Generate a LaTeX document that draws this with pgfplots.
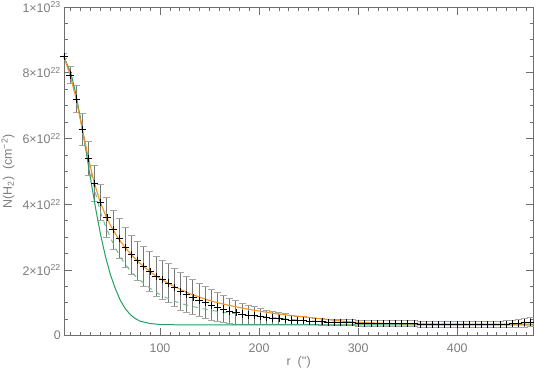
\documentclass[border=0pt]{standalone}
\usepackage{fontspec}
\setmainfont{Liberation Sans}
\usepackage{pgfplots}
\usepackage{pgfplotstable}
\pgfplotsset{compat=1.18}

\definecolor{fitorange}{RGB}{240,148,30}
\definecolor{beamgreen}{RGB}{34,160,100}
\definecolor{dashgreen}{RGB}{110,195,135}
\definecolor{axisgray}{RGB}{110,110,110}
\definecolor{labelgray}{RGB}{125,125,125}
\definecolor{errgray}{RGB}{120,120,120}
\definecolor{capgray}{RGB}{165,165,165}

% radial profile, N in units of 1e22 cm^-2
\pgfplotstableread{
r n e
3.0 8.50 0.08
9.2 7.93 0.25
15.4 7.20 0.40
21.6 6.28 0.48
27.8 5.40 0.52
34.0 4.62 0.55
40.2 4.05 0.56
46.4 3.60 0.60
52.6 3.22 0.60
58.8 2.95 0.60
65.0 2.68 0.60
71.2 2.46 0.60
77.4 2.28 0.60
83.6 2.10 0.60
89.8 1.95 0.60
96.0 1.80 0.60
102.2 1.70 0.60
108.4 1.60 0.59
114.6 1.46 0.58
120.8 1.34 0.57
127.0 1.25 0.55
133.2 1.17 0.53
139.4 1.08 0.51
145.6 1.00 0.49
151.8 0.93 0.47
158.0 0.87 0.45
164.2 0.81 0.42
170.4 0.75 0.39
176.6 0.70 0.36
182.8 0.66 0.33
189.0 0.63 0.30
195.2 0.61 0.27
201.4 0.58 0.24
207.6 0.56 0.22
213.8 0.54 0.20
220.0 0.52 0.18
226.2 0.50 0.16
232.4 0.48 0.14
238.6 0.46 0.13
244.8 0.45 0.12
251.0 0.44 0.11
257.2 0.43 0.10
263.4 0.42 0.10
269.6 0.41 0.09
275.8 0.40 0.09
282.0 0.40 0.09
288.2 0.39 0.09
294.4 0.39 0.09
300.6 0.38 0.09
306.8 0.38 0.09
313.0 0.38 0.09
319.2 0.38 0.09
325.4 0.37 0.09
331.6 0.37 0.09
337.8 0.37 0.09
344.0 0.37 0.09
350.2 0.36 0.09
356.4 0.36 0.09
362.6 0.35 0.09
368.8 0.35 0.09
375.0 0.35 0.09
381.2 0.35 0.09
387.4 0.34 0.09
393.6 0.34 0.09
399.8 0.34 0.09
406.0 0.34 0.09
412.2 0.34 0.09
418.4 0.34 0.09
424.6 0.34 0.09
430.8 0.34 0.09
437.0 0.34 0.09
443.2 0.35 0.09
449.4 0.35 0.10
455.6 0.36 0.11
461.8 0.37 0.12
468.0 0.39 0.13
474.2 0.41 0.14
}\profile

\pgfplotstableread{
r n
3 8.50
9 7.95
15 7.25
21 6.35
27 5.50
33 4.72
39 4.12
45 3.66
51 3.30
57 3.00
63 2.75
69 2.53
75 2.34
81 2.17
87 2.02
93 1.88
99 1.76
105 1.65
111 1.55
117 1.46
123 1.37
130 1.28
140 1.17
150 1.07
160 0.99
170 0.92
180 0.86
190 0.80
200 0.75
210 0.70
225 0.64
240 0.59
258 0.53
275 0.47
292 0.42
305 0.40
320 0.38
340 0.365
370 0.355
400 0.35
477 0.35
}\fitcurve

\pgfplotstableread{
r n
3 8.50
10 7.88
15 7.28
20 6.55
25 5.78
30 5.00
35 4.32
40 3.75
45 3.33
50 2.97
55 2.67
60 2.40
65 2.17
70 1.98
75 1.82
80 1.68
90 1.44
100 1.25
110 1.10
120 0.99
130 0.91
140 0.84
150 0.78
160 0.73
175 0.67
190 0.62
210 0.56
230 0.50
250 0.45
270 0.42
290 0.39
310 0.37
340 0.36
380 0.35
430 0.345
477 0.34
}\dashcurve

\pgfplotstableread{
r n
3 8.48
10 7.99
15 7.36
20 6.56
25 5.67
30 4.75
35 3.87
40 3.07
45 2.40
50 1.85
55 1.42
60 1.07
65 0.82
70 0.64
75 0.52
80 0.44
90 0.37
100 0.34
120 0.33
200 0.33
300 0.33
400 0.33
477 0.33
}\beamcurve

\begin{document}
\begin{tikzpicture}
\begin{axis}[
    scale only axis,
    width=470bp,
    height=329bp,
    xmin=3, xmax=477,
    ymin=0, ymax=10,
    xtick={100,200,300,400},
    xticklabels={100,200,300,400},
    minor xtick={10,20,...,470},
    ytick={0,2,4,6,8,10},
    yticklabels={0,2×10\textsuperscript{22},4×10\textsuperscript{22},6×10\textsuperscript{22},8×10\textsuperscript{22},1×10\textsuperscript{23}},
    minor ytick={0.5,1,...,9.5},
    tick align=inside,
    major tick length=8bp,
    minor tick length=4bp,
    axis line style={axisgray, line width=0.8bp},
    tick style={axisgray, line width=0.8bp},
    tick label style={font=\fontsize{12.5}{14}\selectfont, text=labelgray},
    yticklabel style={inner sep=0pt, xshift=-3bp},
    xticklabel style={inner sep=0pt, yshift=-8bp},
    label style={font=\fontsize{12.5}{14}\selectfont, text=labelgray},
    xlabel={r\ \ (\textquotesingle\textquotesingle)},
    ylabel={N(H\textsubscript{2})\ \ (cm\textsuperscript{−2})},
    xlabel style={at={(axis description cs:0.5,-0.082)}, anchor=center},
    ylabel style={at={(axis description cs:-0.119,0.5)}, anchor=center},
]
\addplot[only marks, mark=+, black, mark size=3.6bp, line width=0.8bp,
    error bars/.cd, y dir=both, y explicit,
    error bar style={errgray, line width=1bp},
    error mark options={rotate=90, mark size=3.5bp, capgray, line width=1bp}]
    table[x=r, y=n, y error=e] {\profile};
\addplot[dashgreen, line width=1bp, dash pattern=on 5bp off 5bp] table[x=r, y=n] {\dashcurve};
\addplot[beamgreen, line width=1bp] table[x=r, y=n] {\beamcurve};
\addplot[fitorange, line width=1.1bp] table[x=r, y=n] {\fitcurve};
\end{axis}
\pgfresetboundingbox
\path[use as bounding box] ([xshift=-64bp,yshift=-35bp]current axis.south west) rectangle ([xshift=0.5bp,yshift=7bp]current axis.north east);
\end{tikzpicture}
\end{document}
